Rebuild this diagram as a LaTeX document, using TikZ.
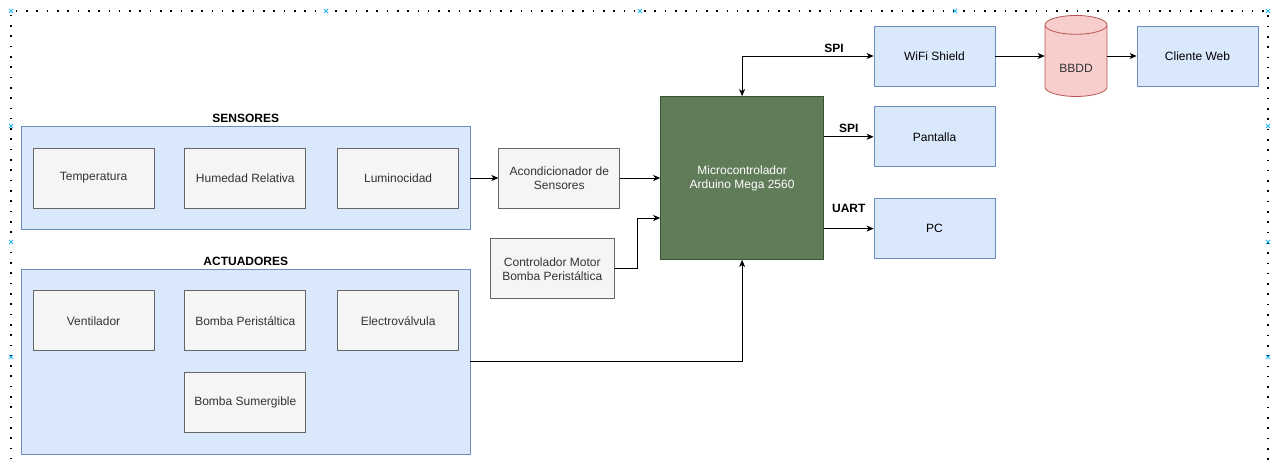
\documentclass[tikz,border=0pt]{standalone}
\usepackage{fontspec}
\setmainfont{Liberation Sans}
\usetikzlibrary{arrows.meta, positioning, fit, backgrounds, shapes.geometric}
\definecolor{groupblue}{HTML}{DAE8FC}
\definecolor{groupline}{HTML}{6C8EBF}
\definecolor{boxgrey}{HTML}{F5F5F5}
\definecolor{boxline}{HTML}{666666}
\definecolor{boxtext}{HTML}{333333}
\definecolor{mcugreen}{HTML}{617C59}
\definecolor{mculine}{HTML}{3A5431}
\definecolor{dbred}{HTML}{F8CECC}
\definecolor{dbline}{HTML}{B85450}
\definecolor{handleblue}{HTML}{29B6F2}

\begin{document}
\begin{tikzpicture}[
    x=1pt, y=-1pt,
    node distance=30pt,
    every node/.style={font=\fontsize{12}{14}\selectfont},
    block/.style={rectangle, draw=boxline, fill=boxgrey, text=boxtext, line width=0.8pt, minimum width=121pt, minimum height=60pt, align=center, inner sep=2pt},
    peripheral/.style={rectangle, draw=groupline, fill=groupblue, line width=0.8pt, minimum width=121pt, minimum height=60pt, align=center},
    group/.style={rectangle, draw=groupline, fill=groupblue, line width=0.8pt, inner xsep=11pt, inner ysep=21pt},
    grouplabel/.style={font=\fontsize{12}{14}\selectfont\bfseries},
    mcu/.style={rectangle, draw=mculine, fill=mcugreen, text=white, line width=0.8pt, minimum size=163pt, align=center},
    db/.style={cylinder, shape border rotate=90, aspect=0.47, draw=dbline, fill=dbred, text=boxtext, line width=0.8pt, minimum width=62pt, minimum height=81pt},
    arrow/.style={-{Stealth[length=7pt, width=6pt, inset=2pt]}, line width=0.8pt},
    arrowboth/.style={{Stealth[length=7pt, width=6pt, inset=2pt]}-{Stealth[length=7pt, width=6pt, inset=2pt]}, line width=0.8pt},
    buslabel/.style={font=\fontsize{12}{14}\selectfont\bfseries},
    frame/.style={line width=1.6pt, dash pattern=on 1.6pt off 8.7pt},
    handle/.style={handleblue, line width=0.8pt}
]
\useasboundingbox (0,0) rectangle (1278,468);

% Page frame
\draw[frame] (11,480) -- (11,11) -- (1268,11) -- (1268,480);
\foreach \hx in {11,326,640,955,1268}
    \draw[handle] (\hx,11) +(-2,-2) -- +(2,2) +(-2,2) -- +(2,-2);
\foreach \hy in {126,242,357} {
    \draw[handle] (11,\hy) +(-2,-2) -- +(2,2) +(-2,2) -- +(2,-2);
    \draw[handle] (1268,\hy) +(-2,-2) -- +(2,2) +(-2,2) -- +(2,-2);
}

% Sensors
\node[block] (temp) at (93.5,178) {Temperatura};
\node[block, right=of temp] (hum) {Humedad Relativa};
\node[block, right=31pt of hum] (lum) {Luminocidad};
\begin{scope}[on background layer]
    \node[group, fit=(temp)(lum)] (sensgrp) {};
\end{scope}
\node[grouplabel, above=0pt of sensgrp] (senslbl) {SENSORES};

% Actuators
\node[block, below=82pt of temp] (vent) {Ventilador};
\node[block, right=of vent] (bperi) {Bomba Peristáltica};
\node[block, right=31pt of bperi] (valve) {Electroválvula};
\node[block, below=21pt of bperi] (bsum) {Bomba Sumergible};
\begin{scope}[on background layer]
    \node[group, fit=(vent)(valve)(bsum)] (actgrp) {};
\end{scope}
\node[grouplabel, above=0pt of actgrp] (actlbl) {ACTUADORES};

% Middle blocks
\node[block, right=28pt of sensgrp] (acond) {Acondicionador de\\Sensores};
\node[block, minimum width=124pt, below=30pt of acond, xshift=-7pt] (ctrl) {Controlador Motor\\Bomba Peristáltica};
\node[mcu, right=40pt of acond] (micro) {Microcontrolador\\Arduino Mega 2560};

% Outputs
\node[peripheral] (wifi) at (934.5,56) {WiFi Shield};
\node[peripheral, below=20pt of wifi] (lcd) {Pantalla};
\node[peripheral, below=31pt of lcd] (pc) {PC};
\node[db] (bbdd) at (1076,63) {\raisebox{-20pt}{BBDD}};
\node[peripheral] (web) at (1197.5,56) {Cliente Web};

% Connections
\draw[arrow] (sensgrp) -- (acond);
\draw[arrow] (acond) -- (micro);
\draw[arrow] (ctrl.east) -- ++(23,0) |- ([yshift=-40pt]micro.west);
\draw[arrow] (actgrp.east) -| (micro.south);
\draw[arrowboth] (micro.north) |- node[pos=0.85, above, buslabel] {SPI} (wifi.west);
\draw[arrow] (micro.east |- lcd) -- node[above, buslabel] {SPI} (lcd);
\draw[arrow] (micro.east |- pc) -- node[above=12pt, buslabel] {UART} (pc);
\draw[arrow] (wifi.east) -- (bbdd.west |- wifi.east);
\draw[arrow] (bbdd.east |- web.west) -- (web.west);

\end{tikzpicture}
\end{document}
